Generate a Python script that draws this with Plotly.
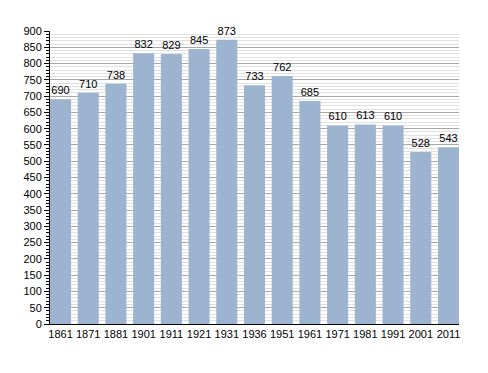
import plotly.graph_objects as go

years = ["1861", "1871", "1881", "1901", "1911", "1921", "1931", "1936",
         "1951", "1961", "1971", "1981", "1991", "2001", "2011"]
population = [690, 710, 738, 832, 829, 845, 873, 733, 762, 685, 610, 613, 610, 528, 543]

fig = go.Figure(go.Bar(
    x=years, y=population,
    text=[str(v) for v in population],
    textposition="outside",
    textfont=dict(family="Liberation Sans, Arial", size=11, color="#000"),
    marker=dict(color="#9cb4cf", line=dict(width=0)),
    width=0.76,
    cliponaxis=False,
))

fig.update_layout(
    width=472, height=357,
    margin=dict(l=42, r=21, t=23, b=41),
    paper_bgcolor="white", plot_bgcolor="white",
    showlegend=False,
    font=dict(family="Liberation Sans, Arial", size=11, color="#000"),
    xaxis=dict(
        type="category", range=[-0.38, 14.38],
        showline=True, linecolor="#000", linewidth=1,
        ticks="", showgrid=False,
        tickfont=dict(size=11),
    ),
    yaxis=dict(
        range=[0, 900], dtick=50, tick0=0,
        showline=True, linecolor="#000", linewidth=1,
        ticks="outside", ticklen=5, tickcolor="#000",
        showgrid=True, gridcolor="#a8a8a8", gridwidth=1,
        zeroline=False,
        tickfont=dict(size=11),
        minor=dict(dtick=10, ticks="outside", ticklen=3, tickcolor="#000",
                   showgrid=True, gridcolor="#e0e0e0", gridwidth=1),
    ),
)

fig.write_html("out.html")
